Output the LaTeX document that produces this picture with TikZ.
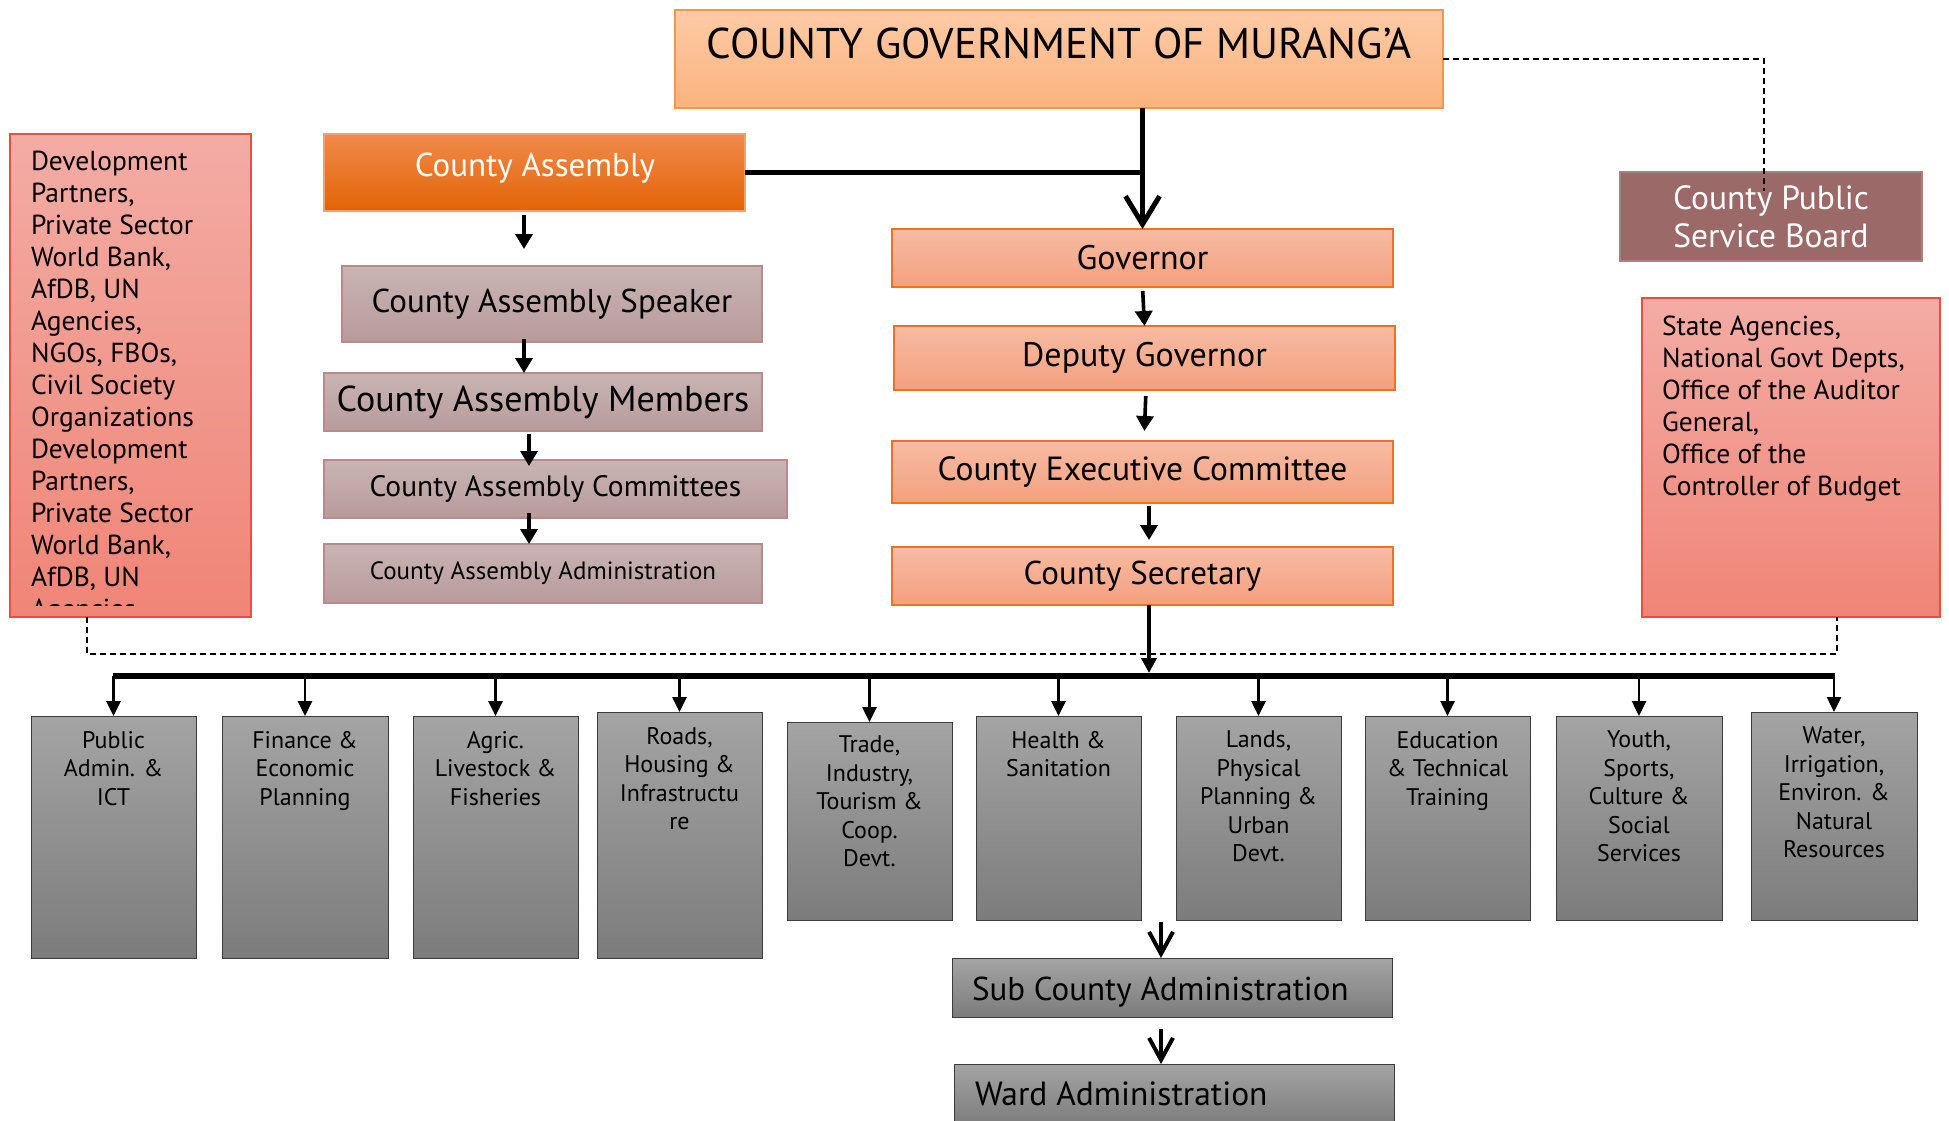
\documentclass[tikz,border=0pt]{standalone}
\usepackage{fontspec}
\setmainfont{PT Sans}
\usetikzlibrary{arrows.meta,calc}
\definecolor{tTop}{HTML}{FDCBA5}
\definecolor{tBot}{HTML}{FBB27E}
\definecolor{tBrd}{HTML}{F79646}
\definecolor{caTop}{HTML}{F08A4B}
\definecolor{caBot}{HTML}{E46406}
\definecolor{caBrd}{HTML}{F3A06A}
\definecolor{pkTop}{HTML}{F3ACA4}
\definecolor{pkBot}{HTML}{F08577}
\definecolor{pkBrd}{HTML}{E9503C}
\definecolor{gyTop}{HTML}{C9B4B4}
\definecolor{gyBot}{HTML}{B89B9C}
\definecolor{gyBrd}{HTML}{B98A8B}
\definecolor{gvTop}{HTML}{F7BBA3}
\definecolor{gvBot}{HTML}{F4A07E}
\definecolor{gvBrd}{HTML}{F2701F}
\definecolor{psb}{HTML}{9C6969}
\definecolor{dpTop}{HTML}{A4A4A4}
\definecolor{dpBot}{HTML}{7C7C7C}
\definecolor{dpBrd}{HTML}{3C3C3C}
\newcommand\myfs[2]{\fontsize{#1}{#2}\selectfont}
\begin{document}
\begin{tikzpicture}[x=1pt,y=-1pt,
 every node/.style={outer sep=0pt,inner sep=0pt},
 bx/.style={anchor=north west,draw,line width=1.2pt},
 topbox/.style={bx,draw=tBrd,top color=tTop,bottom color=tBot},
 cabox/.style={bx,draw=caBrd,top color=caTop,bottom color=caBot},
 pkbox/.style={bx,draw=pkBrd,top color=pkTop,bottom color=pkBot},
 gybox/.style={bx,draw=gyBrd,top color=gyTop,bottom color=gyBot,font=\myfs{33}{38}},
 gvbox/.style={bx,draw=gvBrd,top color=gvTop,bottom color=gvBot,font=\myfs{34}{38}},
 psbbox/.style={bx,draw=psb!85!white,fill=psb,text=white,align=center,font=\myfs{33.5}{38}},
 dpbox/.style={bx,draw=dpBrd,top color=dpTop,bottom color=dpBot,line width=1pt},
 dptext/.style={anchor=north,align=center,font=\myfs{24}{28.5}},
 sarr/.style={line width=3.6pt,-{Triangle[length=15pt,width=17pt]}},
 darr/.style={line width=2.6pt,-{Triangle[length=15pt,width=14pt]}},
 barr/.style={line width=5pt,-{Straight Barb[length=28pt,width=34pt]}},
 marr/.style={line width=4pt,-{Straight Barb[length=22pt,width=24pt]}},
 dsh/.style={line width=1.5pt,dash pattern=on 6pt off 4pt},
 busline/.style={line width=6pt}
]
\useasboundingbox (0,0) rectangle (1949,1120);
\clip (0,0) rectangle (1949,1120);
\fill[white] (0,0) rectangle (1949,1120);

% top
\node[topbox,minimum width=768pt,minimum height=98pt] (top) at (675,10) {};
\node[anchor=base,font=\myfs{43}{48}] (ttl) at (1059,58) {COUNTY GOVERNMENT OF MURANG’A};

% assembly column
\node[cabox,minimum width=421pt,minimum height=77pt] (ca) at (324,134) {};
\node[anchor=base,text=white,font=\myfs{33}{38}] (catxt) at (535,176) {County Assembly};
\node[gybox,minimum width=420pt,minimum height=76pt] (spk) at (342,266) {County Assembly Speaker};
\node[gybox,minimum width=438pt,minimum height=58pt,font=\myfs{36}{40}] (mem) at (324,373) {County Assembly Members};
\node[gybox,minimum width=463pt,minimum height=58pt,font=\myfs{29.5}{34}] (com) at (324,460) {County Assembly Committees};
\node[gybox,minimum width=438pt,minimum height=59pt,font=\myfs{25}{30}] (adm) at (324,544) {County Assembly Administration};

% executive column
\node[gvbox,minimum width=501pt,minimum height=58pt] (gov) at (892,229) {Governor};
\node[gvbox,minimum width=501pt,minimum height=64pt] (dep) at (894,326) {Deputy Governor};
\node[gvbox,minimum width=501pt,minimum height=62pt,font=\myfs{33.5}{38}] (cec) at (892,441) {County Executive Committee};
\node[gvbox,minimum width=501pt,minimum height=58pt,font=\myfs{33}{38}] (sec) at (892,547) {County Secretary};

% side boxes
\node[pkbox,minimum width=241pt,minimum height=483pt] (left) at (10,134) {};
\begin{scope}
\clip (left.north west) rectangle ([yshift=12pt]left.south east);
\node[anchor=north west,align=left,font=\myfs{27.5}{32}] (lefttxt) at (31,151) {Development\\Partners,\\Private Sector\\World Bank,\\AfDB, UN\\Agencies,\\NGOs, FBOs,\\Civil Society\\Organizations\\Development\\Partners,\\Private Sector\\World Bank,\\AfDB, UN\\Agencies};
\end{scope}
\node[psbbox,minimum width=302pt,minimum height=89pt] (psb) at (1620,172) {County Public\\Service Board};
\node[pkbox,minimum width=298pt,minimum height=319pt] (right) at (1642,298) {};
\node[anchor=north west,align=left,font=\myfs{27.5}{32}] (righttxt) at (1662,316) {State Agencies,\\National Govt Depts,\\Office of the Auditor\\General,\\Office of the\\Controller of Budget};

% departments
\node[dpbox,minimum width=165pt,minimum height=242pt] (d1) at (31,716) {};
\node[dpbox,minimum width=166pt,minimum height=242pt] (d2) at (222,716) {};
\node[dpbox,minimum width=165pt,minimum height=242pt] (d3) at (413,716) {};
\node[dpbox,minimum width=165pt,minimum height=246pt] (d4) at (597,712) {};
\node[dpbox,minimum width=165pt,minimum height=198pt] (d5) at (787,722) {};
\node[dpbox,minimum width=165pt,minimum height=204pt] (d6) at (976,716) {};
\node[dpbox,minimum width=165pt,minimum height=204pt] (d7) at (1176,716) {};
\node[dpbox,minimum width=165pt,minimum height=204pt] (d8) at (1365,716) {};
\node[dpbox,minimum width=166pt,minimum height=204pt] (d9) at (1556,716) {};
\node[dpbox,minimum width=166pt,minimum height=208pt] (d10) at (1751,712) {};
\node[dptext] (t1) at ([yshift=-15pt]d1.north) {Public\\Admin. \&\\ICT};
\node[dptext] (t2) at ([yshift=-15pt]d2.north) {Finance \&\\Economic\\Planning};
\node[dptext] (t3) at ([yshift=-15pt]d3.north) {Agric.\\Livestock \&\\Fisheries};
\node[dptext] (t4) at ([yshift=-15pt]d4.north) {Roads,\\Housing \&\\Infrastructu\\re};
\node[dptext] (t5) at ([yshift=-14pt]d5.north) {Trade,\\Industry,\\Tourism \&\\Coop.\\Devt.};
\node[dptext] (t6) at ([yshift=-15pt]d6.north) {Health \&\\Sanitation};
\node[dptext] (t7) at ([yshift=-15pt]d7.north) {Lands,\\Physical\\Planning \&\\Urban\\Devt.};
\node[dptext] (t8) at ([yshift=-15pt]d8.north) {Education\\\& Technical\\Training};
\node[dptext] (t9) at ([yshift=-15pt]d9.north) {Youth,\\Sports,\\Culture \&\\Social\\Services};
\node[dptext] (t10) at ([yshift=-15pt]d10.north) {Water,\\Irrigation,\\Environ. \&\\Natural\\Resources};

% sub county, ward
\node[dpbox,minimum width=440pt,minimum height=59pt] (sub) at (952,958) {};
\node[anchor=base west,font=\myfs{33}{38}] (subtxt) at (972,1000) {Sub County Administration};
\node[dpbox,minimum width=440pt,minimum height=62pt] (ward) at (954,1064) {};
\node[anchor=base west,font=\myfs{33.5}{38}] (wardtxt) at (975,1105) {Ward Administration};

% connectors
\draw[line width=5pt] (ca.east) -- (ca.east -| gov.north);
\draw[barr] (top.south -| gov.north) -- (gov.north);
\draw[sarr] ([xshift=-10.5pt,yshift=-4pt]ca.south) -- ([xshift=-10.5pt,yshift=-38pt]ca.south);
\draw[sarr] ([xshift=-28pt,yshift=3pt]spk.south) -- ([xshift=-19pt]mem.north);
\draw[sarr] ([xshift=-14pt,yshift=-3pt]mem.south) -- ([xshift=-26.5pt,yshift=-6pt]com.north);
\draw[sarr] ([xshift=-26.5pt,yshift=5pt]com.south) -- ([xshift=-14pt]adm.north);
\draw[sarr,shorten <=4pt] (gov.south) -- (dep.north);
\draw[sarr,shorten <=6pt,shorten >=10pt] ([xshift=1.5pt]dep.south) -- ([xshift=1.5pt]cec.north);
\draw[sarr,shorten <=3pt,shorten >=7pt] ([xshift=6.5pt]cec.south) -- ([xshift=6.5pt]sec.north);

\coordinate (bl) at ([yshift=40pt]d1.north);
\coordinate (br) at ([yshift=36pt]d10.north);
\draw[busline] ([xshift=-1pt]bl) -- ([xshift=1pt]br);
\draw[line width=4pt,-{Triangle[length=15pt,width=15pt]},shorten >=3pt] ([xshift=6.5pt]sec.south) -- ([xshift=6.5pt]sec.south |- bl);
\foreach \d in {d1,d2,d3,d4,d5,d6,d7,d8,d9,d10}
  \draw[darr] (\d.north |- bl) -- (\d.north);

\draw[marr] ([xshift=-11pt,yshift=36pt]sub.north) -- ([xshift=-11pt]sub.north);
\draw[marr] ([xshift=-11pt,yshift=-12pt]sub.south) -- ([xshift=-13pt]ward.north);

\draw[dsh] (top.east) -| ([xshift=-7pt,yshift=-19pt]psb.north);
\draw[dsh] ([xshift=-43.5pt]left.south) |- ([xshift=46pt,yshift=-37pt]right.south) -- ([xshift=46pt]right.south);
\end{tikzpicture}
\end{document}
